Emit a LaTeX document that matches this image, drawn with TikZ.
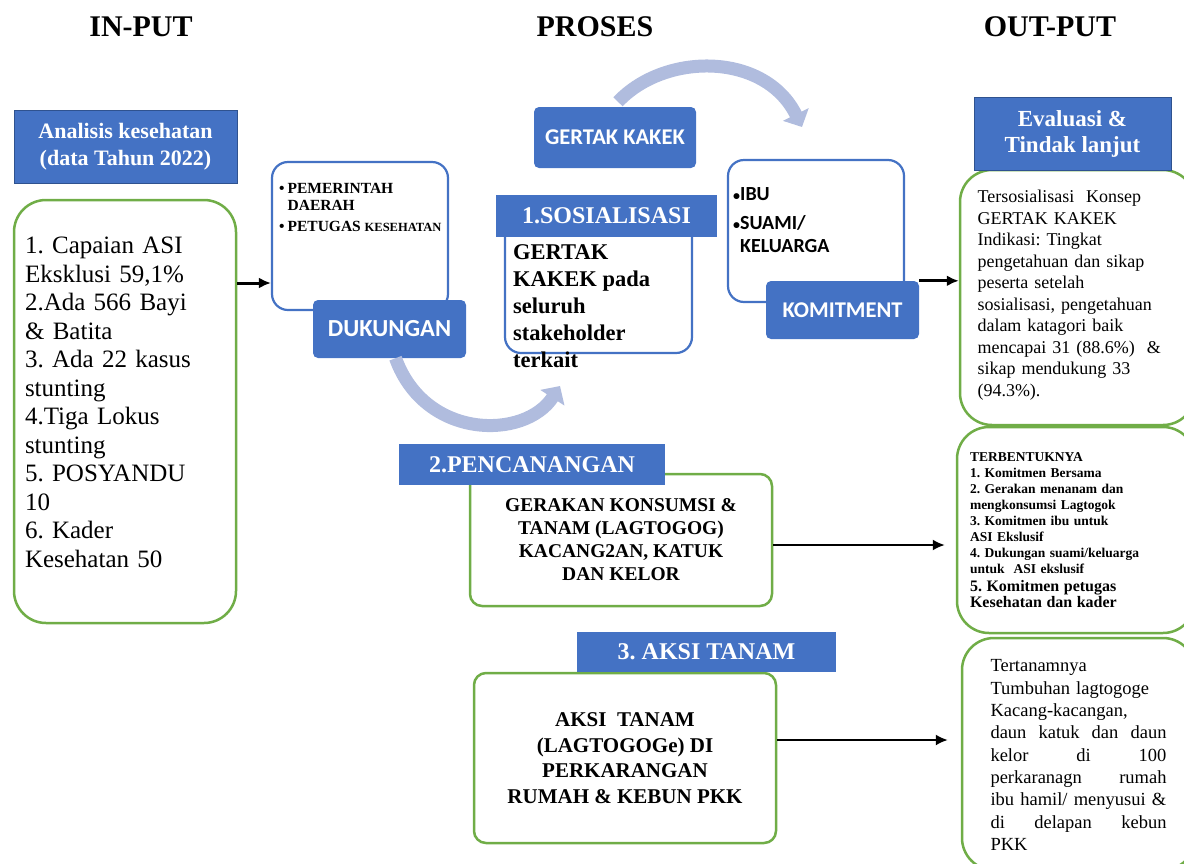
\documentclass[tikz,border=0pt]{standalone}
\usepackage{fontspec}
\setmainfont{Liberation Serif}
\newfontfamily\calibri{Carlito}
\usetikzlibrary{arrows.meta}
\definecolor{box_blue}{RGB}{68,114,196}
\definecolor{edge_blue}{RGB}{47,82,143}
\definecolor{edge_green}{RGB}{112,173,71}
\definecolor{arc_blue}{RGB}{176,188,222}
\newcommand{\fs}[2]{\fontsize{#1}{#2}\selectfont}
\newcommand{\spread}[1]{\makebox[176pt][l]{#1}}

\begin{document}
\frenchspacing
\begin{tikzpicture}[x=1pt,y=-1pt,>={Latex[length=12pt,width=11pt]}]
    \tikzstyle{colhead}=[font=\bfseries\fs{30}{34}]
    \tikzstyle{headbar}=[fill=box_blue, draw=edge_blue, thin, text=white, inner sep=0pt, align=center]
    \tikzstyle{numbar}=[fill=box_blue, text=white, inner sep=0pt, font=\bfseries\fs{24}{26}]
    \tikzstyle{tagbox}=[fill=box_blue, rounded corners=5pt, text=white, inner sep=0pt, font=\calibri\bfseries\fs{22.5}{24}]
    \tikzstyle{gbox}=[draw=edge_green, line width=2.5pt, rounded corners=32pt, fill=white, inner sep=0pt]
    \tikzstyle{bbox}=[draw=box_blue, line width=2.2pt, rounded corners=16pt, fill=white, inner sep=0pt]
    \tikzstyle{cyclearc}=[draw=arc_blue, line width=13pt, -{Triangle[length=14pt,width=28pt]}]
    \tikzstyle{thickarrow}=[draw=black, line width=3pt, ->]
    \tikzstyle{thinarrow}=[draw=black, line width=1.8pt, ->]

    \useasboundingbox (0,0) rectangle (1184,863);

    \node[colhead] (t_in)  at (141,27)  {IN-PUT};
    \node[colhead] (t_pro) at (595,27)  {PROSES};
    \node[colhead] (t_out) at (1050,27) {OUT-PUT};

    % input
    \node[headbar, minimum width=223pt, minimum height=73pt, font=\bfseries\fs{22}{27}] (analisis) at (125.5,146.5) {Analisis kesehatan\\(data Tahun 2022)};
    \node[gbox, minimum width=222pt, minimum height=423pt, text width=200pt, align=left, font=\fs{25}{28.5}] (data) at (125,411.5)
      {1. Capaian ASI\\Eksklusi 59,1\%\\2.Ada 566 Bayi\\\& Batita\\3. Ada 22 kasus\\stunting\\4.Tiga Lokus\\stunting\\5. POSYANDU\\10\\6. Kader\\Kesehatan 50\\[-10pt]\mbox{}};

    % proses
    \node[bbox, minimum width=176pt, minimum height=148pt] (pemda) at (360,236) {};
    \node[anchor=north west, inner sep=0pt, align=left, font=\bfseries\fs{15.5}{17.5}] (pemda_txt) at (279,183)
      {\textbullet\hspace{3pt}PEMERINTAH\\\phantom{\textbullet\hspace{3pt}}DAERAH\\[3.5pt]\textbullet\hspace{3pt}PETUGAS {\fs{12.5}{17.5}KESEHATAN}};
    \node[tagbox, minimum width=153pt, minimum height=58pt, font=\calibri\bfseries\fs{24.5}{26}] (dukung) at (389.5,329) {DUKUNGAN};
    \node[tagbox, minimum width=162pt, minimum height=61pt] (gertak) at (615,137.5) {GERTAK KAKEK};

    \node[bbox, minimum width=187pt, minimum height=138pt] (sos) at (598.5,284) {};
    \node[numbar, minimum width=221pt, minimum height=42pt] (sos_bar) at (606.5,216) {1.SOSIALISASI};
    \node[anchor=north west, inner sep=0pt, align=left, font=\bfseries\fs{22.5}{27}] (sos_txt) at (513,244)
      {GERTAK\\KAKEK pada\\seluruh\\stakeholder\\terkait};

    \node[bbox, minimum width=176pt, minimum height=142pt] (ibu) at (816,231) {};
    \node[anchor=north west, inner sep=0pt, align=left, font=\calibri\bfseries\fs{20}{23}] (ibu_txt) at (733,187)
      {{\fs{14}{23}\textbullet}IBU\\[6pt]{\fs{14}{23}\textbullet}SUAMI/\\\phantom{\fs{14}{23}\textbullet}KELUARGA};
    \node[tagbox, minimum width=153pt, minimum height=58pt] (komit) at (842.5,310) {KOMITMENT};

    \coordinate (sos_tip) at (560,386);
    \coordinate (ibu_tip) at (802,127);
    \draw[cyclearc] ([xshift=6pt]dukung.south) .. controls (425,440) and (525,440) .. (sos_tip);
    \draw[cyclearc] ([xshift=3pt,yshift=5pt]gertak.north) .. controls (665,52) and (765,52) .. (ibu_tip);

    \node[gbox, rounded corners=12pt, minimum width=302pt, minimum height=132pt, align=center, font=\bfseries\fs{19.5}{23}] (pencan) at (621,540)
      {GERAKAN KONSUMSI \&\\TANAM (LAGTOGOG)\\KACANG2AN, KATUK\\DAN KELOR};
    \node[numbar, minimum width=266pt, minimum height=41pt] (pencan_bar) at (532,464.5) {2.PENCANANGAN};

    \node[gbox, rounded corners=12pt, minimum width=302pt, minimum height=170pt, align=center, font=\bfseries\fs{21}{25.7}] (aksi) at (625,758)
      {AKSI~ TANAM\\(LAGTOGOGe) DI\\PERKARANGAN\\RUMAH \& KEBUN PKK};
    \node[numbar, minimum width=259pt, minimum height=40pt] (aksi_bar) at (706.5,652) {3. AKSI TANAM};

    % output
    \node[gbox, minimum width=235pt, minimum height=255pt, text width=200pt, align=left, font=\fs{18}{21.5}] (out1) at (1077.5,297.5)
      {\mbox{}\\[-14pt]Tersosialisasi~ Konsep\\GERTAK KAKEK\\Indikasi: Tingkat\\pengetahuan dan sikap\\peserta setelah\\sosialisasi, pengetahuan\\dalam katagori baik\\mencapai 31 (88.6\%)~ \&\\sikap mendukung 33\\(94.3\%).};
    \node[headbar, minimum width=197pt, minimum height=73pt, font=\bfseries\fs{23}{26}] (evaluasi) at (1072.5,133.5) {Evaluasi \&\\Tindak lanjut};
    \node[gbox, minimum width=238pt, minimum height=206pt, text width=212pt, align=left, font=\bfseries\fs{13.5}{16}] (out2) at (1076,530)
      {TERBENTUKNYA\\1. Komitmen Bersama\\2. Gerakan menanam dan\\mengkonsumsi Lagtogok\\3. Komitmen ibu untuk\\ASI Ekslusif\\4. Dukungan suami/keluarga\\untuk~ ASI ekslusif\par
       \fs{16}{18}5. Komitmen petugas\\Kesehatan dan kader};
    \node[gbox, minimum width=233pt, minimum height=232pt, text width=176pt, align=left, font=\fs{18.5}{22.3}] (out3) at (1078.5,754)
      {\mbox{}\\[-8pt]Tertanamnya\\Tumbuhan lagtogoge\\Kacang-kacangan,\\\spread{daun\hfill katuk\hfill dan\hfill daun}\\\spread{kelor\hfill di\hfill 100}\\\spread{perkaranagn\hfill rumah}\\ibu hamil/ menyusui \&\\\spread{di\hfill delapan\hfill kebun}\\PKK};

    \coordinate (in_row) at (0,283);
    \coordinate (pencan_row) at ([yshift=-5pt]pencan.east);
    \coordinate (aksi_row) at ([yshift=18pt]aksi.east);

    \path
     (data.east |- in_row) edge[thickarrow] (pemda.west |- in_row)
     (komit.north east) edge[thickarrow] (out1.west |- komit.north east)
     (pencan_row) edge[thinarrow, shorten >=11pt] (out2.west |- pencan_row)
     (aksi_row) edge[thinarrow, shorten >=13pt] (out3.west |- aksi_row)
     ;
\end{tikzpicture}
\end{document}
